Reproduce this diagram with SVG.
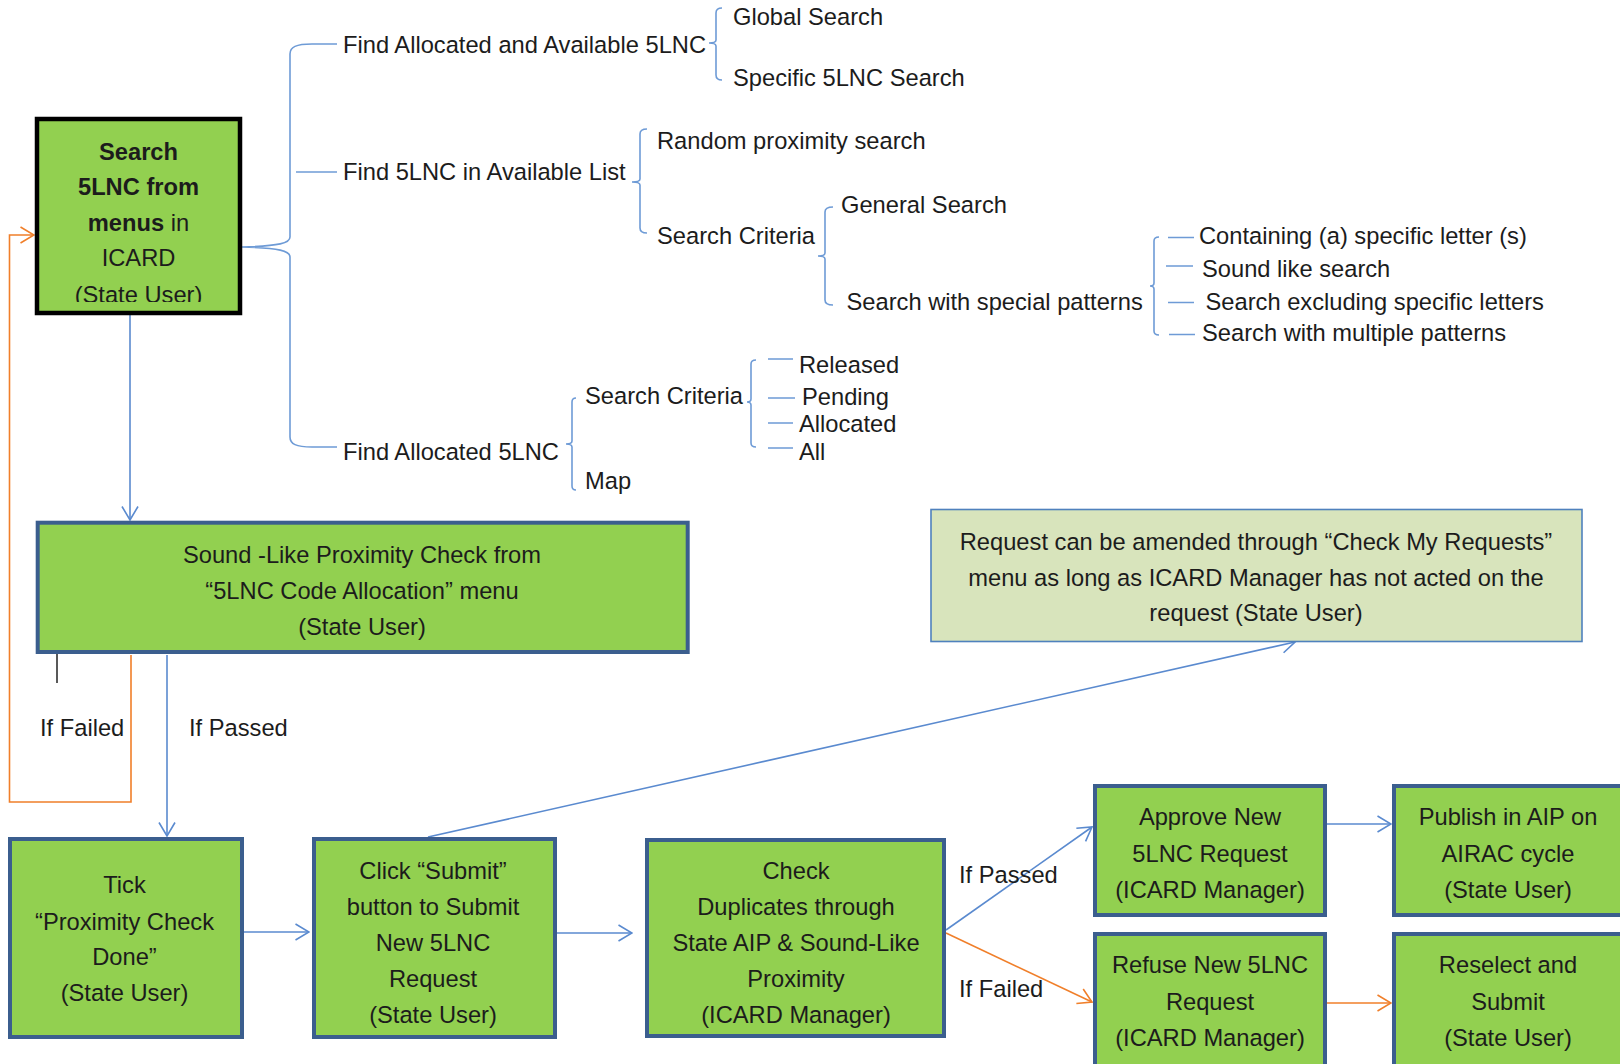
<svg xmlns="http://www.w3.org/2000/svg" width="1620" height="1064" viewBox="0 0 1620 1064">
<style>
text{font-family:"Liberation Sans",Arial,sans-serif;font-size:23.7px;fill:#1c1c1c}
.c{text-anchor:middle}
.b{font-weight:bold}
.box{fill:#92D050;stroke:#3B5E8E;stroke-width:4}
.note{fill:#D8E4BC;stroke:#4F81BD;stroke-width:1.6}
.blue{fill:none;stroke:#5A8ACF;stroke-width:1.6}
.orange{fill:none;stroke:#F07F2A;stroke-width:1.6}
.tree{fill:none;stroke:#6E9BD6;stroke-width:1.6}
</style>
<defs>
<marker id="ab" viewBox="-15 -10 16 20" refX="0" refY="0" markerWidth="16" markerHeight="20" markerUnits="userSpaceOnUse" orient="auto"><path d="M-13.5,-8 L0,0 L-13.5,8" fill="none" stroke="#5A8ACF" stroke-width="1.6"/></marker>
<marker id="ao" viewBox="-15 -10 16 20" refX="0" refY="0" markerWidth="16" markerHeight="20" markerUnits="userSpaceOnUse" orient="auto"><path d="M-13.5,-8 L0,0 L-13.5,8" fill="none" stroke="#F07F2A" stroke-width="1.6"/></marker>
<clipPath id="clipSearch"><rect x="39" y="121" width="199" height="181"/></clipPath>
</defs>
<rect width="1620" height="1064" fill="#fff"/>

<g id="connectors">
<path class="blue" d="M130,315 L130,520" marker-end="url(#ab)"/>
<path class="orange" d="M131,655 L131,802 L9.5,802 L9.5,235 L34,235" marker-end="url(#ao)"/>
<path d="M57,653 L57,683" stroke="#222" stroke-width="1.5" fill="none"/>
<path class="blue" d="M167,655 L167,836" marker-end="url(#ab)"/>
<path class="blue" d="M244,932 L309,932" marker-end="url(#ab)"/>
<path class="blue" d="M557,933 L632,933" marker-end="url(#ab)"/>
<path class="blue" d="M428,837 L1295,642" marker-end="url(#ab)"/>
<path class="blue" d="M946,930 L1092,827" marker-end="url(#ab)"/>
<path class="orange" d="M946,933 L1092,1002" marker-end="url(#ao)"/>
<path class="blue" d="M1327,824 L1391,824" marker-end="url(#ab)"/>
<path class="orange" d="M1327,1003 L1391,1003" marker-end="url(#ao)"/>
<!-- tree brackets -->
<path class="tree" d="M337,44 L312,44 C296,44 290,47 290,54 L290,237 C290,243 280,246 242,247 C280,248 290,251 290,257 L290,437 C290,444 296,447 312,447 L337,447"/>
<path class="tree" d="M296,172 L337,172"/>
<path class="tree" d="M722,8 Q716,8 716,13 L716,40 Q716,43 709,43 Q716,43 716,46 L716,75 Q716,80 722,80"/>
<path class="tree" d="M647,129 Q640,129 640,134 L640,179 Q640,182 632,182 Q640,182 640,185 L640,228 Q640,233 647,233"/>
<path class="tree" d="M833,207 Q825,207 825,212 L825,253 Q825,256 818,256 Q825,256 825,259 L825,300 Q825,305 833,305"/>
<path class="tree" d="M1159,237 Q1154,237 1154,241 L1154,283 Q1154,286 1150,286 Q1154,286 1154,289 L1154,331 Q1154,335 1159,335"/>
<path class="tree" d="M1168,237.5 L1194,237.5 M1166,266 L1193,266 M1168,302.5 L1194,302.5 M1169,334.5 L1195,334.5"/>
<path class="tree" d="M576,398 Q572,398 572,402 L572,441 Q572,444 566,444 Q572,444 572,447 L572,486 Q572,490 576,490"/>
<path class="tree" d="M756,360 Q751,360 751,364 L751,399 Q751,402 747,402 Q751,402 751,405 L751,443 Q751,447 756,447"/>
<path class="tree" d="M768,359 L793,359 M768,398 L795,398 M768,423 L793,423 M768,448 L793,448"/>
</g>

<g id="tree-labels">
<text x="343" y="53">Find Allocated and Available 5LNC</text>
<text x="733" y="24.5">Global Search</text>
<text x="733" y="85.5">Specific 5LNC Search</text>
<text x="343" y="180">Find 5LNC in Available List</text>
<text x="657" y="148.5">Random proximity search</text>
<text x="657" y="243.5">Search Criteria</text>
<text x="841" y="212.5">General Search</text>
<text x="846.5" y="310">Search with special patterns</text>
<text x="1199" y="243.5">Containing (a) specific letter (s)</text>
<text x="1202" y="276.5">Sound like search</text>
<text x="1205.5" y="310">Search excluding specific letters</text>
<text x="1202" y="341">Search with multiple patterns</text>
<text x="343" y="460">Find Allocated 5LNC</text>
<text x="585" y="403.5">Search Criteria</text>
<text x="585" y="489">Map</text>
<text x="799" y="373">Released</text>
<text x="802" y="405">Pending</text>
<text x="799" y="432">Allocated</text>
<text x="799" y="460">All</text>
</g>

<g id="n-search">
<rect x="37" y="119" width="203" height="194" fill="#92D050" stroke="#000" stroke-width="4.5"/>
<g clip-path="url(#clipSearch)">
<text class="c b" x="138.5" y="160">Search</text>
<text class="c b" x="138.5" y="195.4">5LNC from</text>
<text class="c" x="138.5" y="230.8"><tspan class="b">menus</tspan> in</text>
<text class="c" x="138.5" y="266.2">ICARD</text>
<text class="c" x="138.5" y="303">(State User)</text>
</g>
</g>

<g id="n-sound">
<rect class="box" x="37.7" y="522.7" width="650" height="129.3"/>
<text class="c" x="362" y="563">Sound -Like Proximity Check from</text>
<text class="c" x="362" y="599">“5LNC Code Allocation” menu</text>
<text class="c" x="362" y="635">(State User)</text>
</g>

<g id="labels-left">
<text x="40" y="736">If Failed</text>
<text x="189" y="736">If Passed</text>
</g>

<g id="n-note">
<rect class="note" x="931" y="509.5" width="651" height="132"/>
<text class="c" x="1256" y="550">Request can be amended through “Check My Requests”</text>
<text class="c" x="1256" y="586">menu as long as ICARD Manager has not acted on the</text>
<text class="c" x="1256" y="621">request (State User)</text>
</g>

<g id="n-tick">
<rect class="box" x="10" y="839" width="232" height="198"/>
<text class="c" x="124.5" y="893">Tick</text>
<text class="c" x="124.5" y="929.5">“Proximity Check</text>
<text class="c" x="124.5" y="965">Done”</text>
<text class="c" x="124.5" y="1001">(State User)</text>
</g>

<g id="n-submit">
<rect class="box" x="314" y="839" width="241" height="198"/>
<text class="c" x="433" y="879">Click “Submit”</text>
<text class="c" x="433" y="915">button to Submit</text>
<text class="c" x="433" y="951">New 5LNC</text>
<text class="c" x="433" y="987">Request</text>
<text class="c" x="433" y="1023">(State User)</text>
</g>

<g id="n-check">
<rect class="box" x="647" y="840" width="297" height="196"/>
<text class="c" x="796" y="879">Check</text>
<text class="c" x="796" y="915">Duplicates through</text>
<text class="c" x="796" y="951">State AIP &amp; Sound-Like</text>
<text class="c" x="796" y="987">Proximity</text>
<text class="c" x="796" y="1023">(ICARD Manager)</text>
</g>

<g id="labels-right">
<text x="959" y="883">If Passed</text>
<text x="959" y="997">If Failed</text>
</g>

<g id="n-approve">
<rect class="box" x="1095" y="786" width="230" height="129"/>
<text class="c" x="1210" y="825">Approve New</text>
<text class="c" x="1210" y="862">5LNC Request</text>
<text class="c" x="1210" y="898">(ICARD Manager)</text>
</g>

<g id="n-publish">
<rect class="box" x="1394" y="786" width="260" height="129"/>
<text class="c" x="1508" y="825">Publish in AIP on</text>
<text class="c" x="1508" y="862">AIRAC cycle</text>
<text class="c" x="1508" y="898">(State User)</text>
</g>

<g id="n-refuse">
<rect class="box" x="1095" y="934" width="230" height="160"/>
<text class="c" x="1210" y="973">Refuse New 5LNC</text>
<text class="c" x="1210" y="1010">Request</text>
<text class="c" x="1210" y="1046">(ICARD Manager)</text>
</g>

<g id="n-reselect">
<rect class="box" x="1394" y="934" width="260" height="160"/>
<text class="c" x="1508" y="973">Reselect and</text>
<text class="c" x="1508" y="1010">Submit</text>
<text class="c" x="1508" y="1046">(State User)</text>
</g>
</svg>
